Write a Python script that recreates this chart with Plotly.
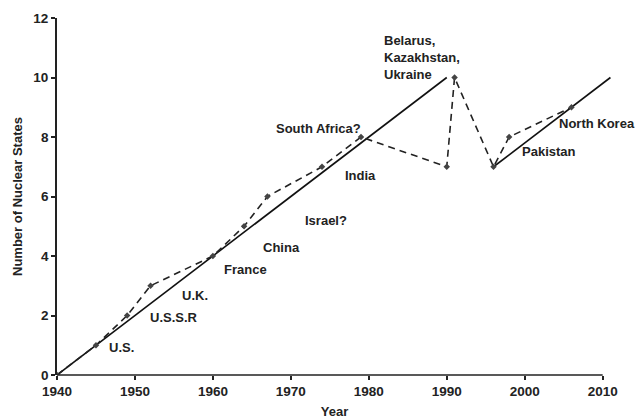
import plotly.graph_objects as go

years = [1940, 1945, 1949, 1952, 1960, 1964, 1967, 1974, 1979, 1990, 1991, 1996, 1998, 2006]
states = [0, 1, 2, 3, 4, 5, 6, 7, 8, 7, 10, 7, 8, 9]

trend1_x = [1940, 1990]
trend1_y = [0, 10]
trend2_x = [1996, 2011]
trend2_y = [7, 10]

labels = ["U.S.", "U.S.S.R", "U.K.", "France", "China", "Israel?", "India",
          "South Africa?", "Belarus,<br>Kazakhstan,<br>Ukraine", "North Korea", "Pakistan"]
label_x = [1946.4, 1951.7, 1955.8, 1961.2, 1966.2, 1971.5, 1976.7,
           1967.9, 1981.7, 2004.1, 1999.4]
label_y = [0.91, 1.92, 2.66, 3.53, 4.30, 5.18, 6.69, 8.30, 10.66, 8.44, 7.50]

FONT = "Liberation Sans, Arial, sans-serif"

fig = go.Figure()
fig.add_trace(go.Scatter(x=trend1_x, y=trend1_y, mode="lines",
                         line=dict(color="#111", width=1.6), hoverinfo="skip"))
fig.add_trace(go.Scatter(x=trend2_x, y=trend2_y, mode="lines",
                         line=dict(color="#111", width=1.6), hoverinfo="skip"))
fig.add_trace(go.Scatter(x=years, y=states, mode="lines+markers",
                         line=dict(color="#222", width=1.6, dash="7px,5px"),
                         marker=dict(symbol="diamond", size=5, color="#444"),
                         hoverinfo="skip"))

for t, lx, ly in zip(labels, label_x, label_y):
    fig.add_annotation(x=lx, y=ly, text="<b>" + t.replace("<br>", "</b><br><b>") + "</b>",
                       showarrow=False, xanchor="left", align="left",
                       font=dict(family=FONT, size=13, color="#222"))

fig.add_shape(type="line", xref="x", yref="paper", x0=1940, x1=2010, y0=0, y1=0,
              line=dict(color="#222", width=1.6))

tickfont = dict(family=FONT, size=13.5, color="#222")

fig.update_layout(
    width=635, height=419,
    margin=dict(l=57, r=23, t=18, b=44, autoexpand=False),
    paper_bgcolor="white", plot_bgcolor="white",
    showlegend=False,
    font=dict(family=FONT, size=13, color="#222"),
    xaxis=dict(range=[1940, 2011.2], tickvals=[1940, 1950, 1960, 1970, 1980, 1990, 2000, 2010],
               ticktext=["<b>%d</b>" % v for v in [1940, 1950, 1960, 1970, 1980, 1990, 2000, 2010]],
               showgrid=False, zeroline=False, showline=False, automargin=False,
               ticks="outside", ticklen=4, tickcolor="#222", tickwidth=1.5,
               tickfont=tickfont,
               title=dict(text="<b>Year</b>", standoff=10, font=dict(family=FONT, size=13))),
    yaxis=dict(range=[0, 12], tickvals=[0, 2, 4, 6, 8, 10, 12],
               ticktext=["<b>%d</b>" % v for v in [0, 2, 4, 6, 8, 10, 12]],
               showgrid=False, zeroline=False, showline=True, linecolor="#222", linewidth=1.8,
               automargin=False,
               ticks="outside", ticklen=4, tickcolor="#222", tickwidth=1.5,
               tickfont=tickfont,
               title=dict(text="<b>Number of Nuclear States</b>", standoff=8,
                          font=dict(family=FONT, size=13))),
)

fig.write_html("out.html", config={"displayModeBar": False},
               post_script="document.body.style.margin='0';document.body.style.overflow='hidden';")
